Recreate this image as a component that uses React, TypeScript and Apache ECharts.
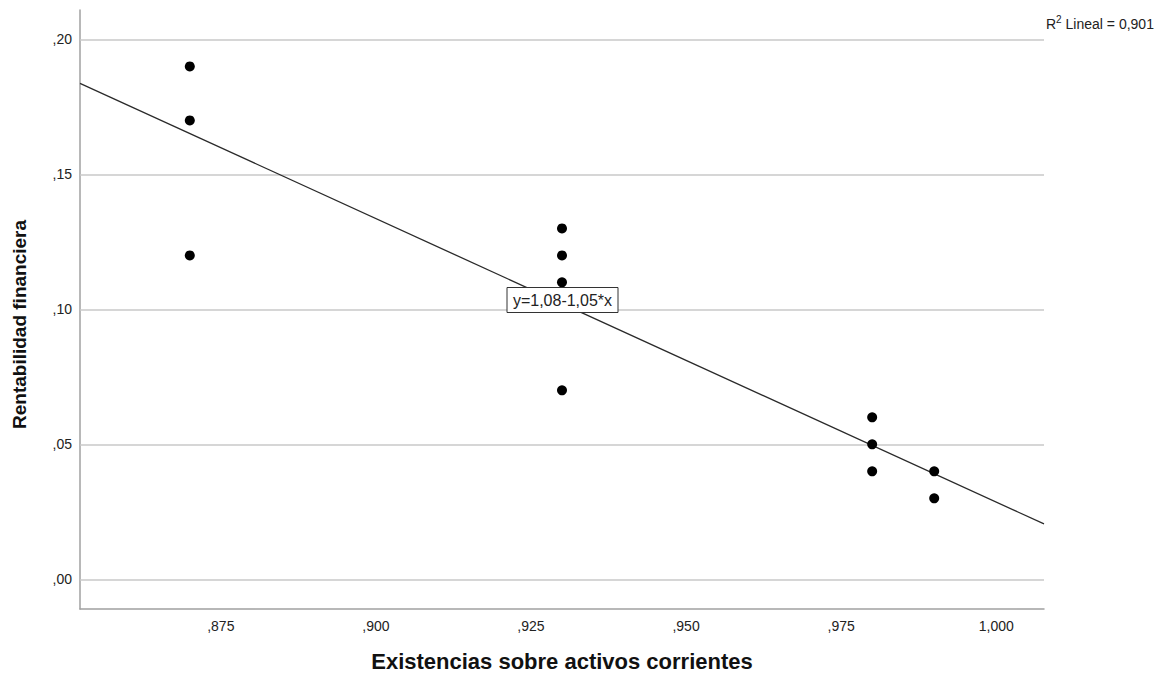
import React, { useEffect, useRef } from "react";
import * as echarts from "echarts";

const xValues = [0.87, 0.87, 0.87, 0.93, 0.93, 0.93, 0.93, 0.98, 0.98, 0.98, 0.99, 0.99];
const yValues = [0.19, 0.17, 0.12, 0.13, 0.12, 0.11, 0.07, 0.06, 0.05, 0.04, 0.04, 0.03];
const xTicks = [0.875, 0.9, 0.925, 0.95, 0.975, 1.0];
const yTicks = [0.0, 0.05, 0.1, 0.15, 0.2];
const xRange = [0.8523, 1.0077];
const yRange = [-0.011, 0.2109];
const intercept = 1.0789;
const slope = -1.0503;
const equationText = "y=1,08-1,05*x";
const r2Text = "0,901";

const fmt = (v: number, d: number) => {
  const s = v.toFixed(d).replace(".", ",");
  return s.startsWith("0,") ? s.slice(1) : s;
};

export default function App() {
  const ref = useRef<HTMLDivElement>(null);
  useEffect(() => {
    if (!ref.current) return;
    const chart = echarts.init(ref.current, undefined, { renderer: "svg" });
    const font = "'Liberation Sans', Arial, sans-serif";
    const linePts = xRange.map((x) => [x, intercept + slope * x]);
    chart.setOption({
      animation: false,
      textStyle: { fontFamily: font },
      grid: { left: 80, right: 122, top: 10, bottom: 66, outerBoundsMode: "none", containLabel: false },
      xAxis: {
        type: "value",
        min: xRange[0],
        max: xRange[1],
        name: "Existencias sobre activos corrientes",
        nameLocation: "middle",
        nameGap: 41,
        nameTextStyle: { fontSize: 22, fontWeight: "bold", color: "#111", fontFamily: font },
        axisLine: { show: true, onZero: false, lineStyle: { color: "#a0a0a0", width: 1.5 } },
        axisTick: { show: false },
        splitLine: { show: false },
        axisLabel: {
          customValues: xTicks,
          formatter: (v: number) => fmt(v, 3),
          fontSize: 14,
          color: "#222",
          margin: 10,
          fontFamily: font,
        },
      },
      yAxis: {
        type: "value",
        min: yRange[0],
        max: yRange[1],
        name: "Rentabilidad financiera",
        nameLocation: "middle",
        nameGap: 51,
        nameTextStyle: {
          fontSize: 19,
          fontWeight: "bold",
          color: "#111",
          fontFamily: font,
          padding: [0, 30, 0, 0],
        },
        axisLine: { show: true, onZero: false, lineStyle: { color: "#a0a0a0", width: 1.5 } },
        axisTick: { show: false },
        splitLine: { show: false },
        axisLabel: {
          customValues: yTicks,
          formatter: (v: number) => fmt(v, 2),
          fontSize: 14,
          color: "#222",
          margin: 8,
          fontFamily: font,
        },
      },
      series: [
        {
          type: "line",
          data: linePts,
          symbol: "none",
          lineStyle: { color: "#2a2a2a", width: 1.3 },
          silent: true,
          z: 3,
          markLine: {
            silent: true,
            symbol: "none",
            label: { show: false },
            lineStyle: { color: "#c8c8c8", width: 1.5, type: "solid" },
            data: yTicks.map((y) => ({ yAxis: y })),
            z: 1,
          },
        },
        {
          type: "scatter",
          data: xValues.map((x, i) => [x, yValues[i]]),
          symbol: "circle",
          symbolSize: 10,
          itemStyle: { color: "#000", opacity: 1 },
          z: 4,
        },
      ],
      graphic: [
        {
          type: "text",
          left: 1046,
          top: 14,
          style: {
            text: "{b|R}{s|2}{b| Lineal = " + r2Text + "}",
            rich: {
              b: { fontSize: 14, fontFamily: font, fill: "#222", verticalAlign: "bottom" },
              s: { fontSize: 10, fontFamily: font, fill: "#222", verticalAlign: "top", padding: [0, 0, 7, 0] },
            },
          },
        },
        {
          type: "rect",
          shape: { x: 507, y: 287.5, width: 111, height: 25 },
          style: { fill: "#fff", stroke: "#333", lineWidth: 1 },
          z: 10,
        },
        {
          type: "text",
          x: 562.5,
          y: 300,
          style: {
            text: equationText,
            fontSize: 16,
            fontFamily: font,
            fill: "#222",
            align: "center",
            verticalAlign: "middle",
          },
          z: 11,
        },
      ],
    });
    return () => chart.dispose();
  }, []);
  return (
    <div
      ref={ref}
      style={{ position: "fixed", left: 0, top: 0, width: 1166, height: 675, background: "#fff" }}
    />
  );
}
